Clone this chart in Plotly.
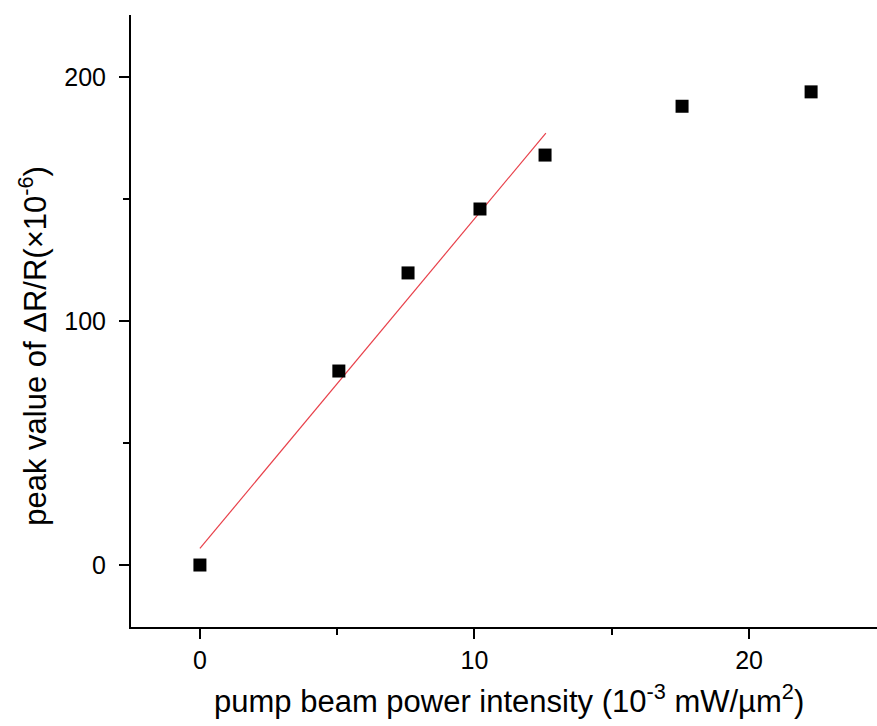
import plotly.graph_objects as go

# Data
power = [0.0, 5.06, 7.58, 10.2, 12.57, 17.56, 22.26]
peak = [0.0, 79.5, 119.7, 145.9, 168.0, 188.0, 193.9]

# Linear fit line endpoints
fit_x = [0.0, 12.6]
fit_y = [6.8, 177.0]

x_ticks = [0, 10, 20]
y_ticks = [0, 100, 200]

FONT = "Liberation Sans, Arial, sans-serif"

fig = go.Figure()
fig.add_trace(go.Scatter(x=fit_x, y=fit_y, mode="lines",
                         line=dict(color="#e8404a", width=1.2),
                         showlegend=False, hoverinfo="skip"))
fig.add_trace(go.Scatter(x=power, y=peak, mode="markers",
                         marker=dict(symbol="square", size=13, color="black",
                                     line=dict(width=0)),
                         showlegend=False))

fig.update_layout(
    width=877, height=726,
    margin=dict(l=131, r=0, t=15, b=99),
    paper_bgcolor="white", plot_bgcolor="white",
    font=dict(family=FONT, size=25, color="black"),
    xaxis=dict(range=[-2.51, 24.66], showgrid=False, zeroline=False,
               showline=True, linecolor="black", linewidth=2,
               ticks="outside", ticklen=10, tickwidth=2, tickcolor="black",
               tickvals=x_ticks, ticktext=[str(v) for v in x_ticks],
               tickfont=dict(size=25), ticklabelstandoff=0,
               minor=dict(ticks="outside", ticklen=6, tickwidth=2,
                          tickcolor="black", dtick=5, showgrid=False)),
    yaxis=dict(range=[-25.4, 225.4], showgrid=False, zeroline=False,
               showline=True, linecolor="black", linewidth=2,
               ticks="outside", ticklen=10, tickwidth=2, tickcolor="black",
               tickvals=y_ticks, ticktext=[str(v) for v in y_ticks],
               tickfont=dict(size=25), ticklabelstandoff=8,
               minor=dict(ticks="outside", ticklen=6, tickwidth=2,
                          tickcolor="black", dtick=50, showgrid=False)),
    annotations=[
        dict(text="pump beam power intensity (10<sup>-3</sup> mW/µm<sup>2</sup>)",
             xref="paper", yref="paper", x=(509 - 131) / 746, y=-0.118,
             xanchor="center", yanchor="middle", showarrow=False,
             font=dict(size=31)),
        dict(text="peak value of ΔR/R(×10<sup>-6</sup>)",
             xref="paper", yref="paper", x=-0.131, y=0.46,
             xanchor="center", yanchor="middle", textangle=-90,
             showarrow=False, font=dict(size=31)),
    ],
)

fig.write_html("out.html")
